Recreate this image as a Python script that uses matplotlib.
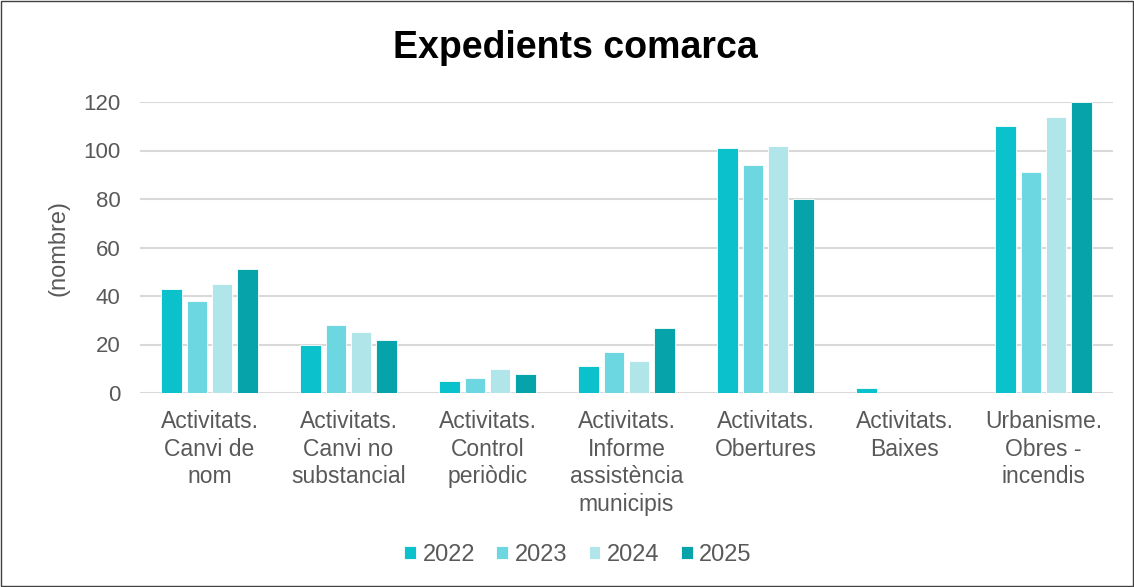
import numpy as np
import matplotlib.pyplot as plt

plt.rcParams['font.family'] = ['Liberation Sans', 'DejaVu Sans']

# categories and values
categories = ["Activitats.\nCanvi de\nnom", "Activitats.\nCanvi no\nsubstancial",
              "Activitats.\nControl\nperiòdic", "Activitats.\nInforme\nassistència\nmunicipis",
              "Activitats.\nObertures", "Activitats.\nBaixes", "Urbanisme.\nObres -\nincendis"]
years = ["2022", "2023", "2024", "2025"]
v2022 = [43, 20, 5, 11, 101, 2, 110]
v2023 = [38, 28, 6, 17, 94, 0, 91]
v2024 = [45, 25, 10, 13, 102, 0, 114]
v2025 = [51, 22, 8, 27, 80, 0, 120]
series = [v2022, v2023, v2024, v2025]
colors = ["#0BC1CC", "#6CD7E0", "#B0E5EA", "#07A3AB"]

fig = plt.figure(figsize=(11.34, 5.87), dpi=100)
ax = fig.add_axes([140/1134, 1-393/587, 973/1134, 291/587])

x = np.arange(len(categories))
slot = 0.182
for i, (vals, c) in enumerate(zip(series, colors)):
    ax.bar(x + (i - 1.5) * slot, vals, width=0.145, color=c, label=years[i],
           edgecolor="white", linewidth=0.6, zorder=3)

ax.set_xlim(-0.5, len(categories) - 0.5)
ax.set_ylim(0, 120)
ax.set_yticks(np.arange(0, 121, 20))
ax.yaxis.grid(True, color="#D9D9D9", linewidth=1.5, zorder=0)
for s in ax.spines.values():
    s.set_visible(False)
ax.tick_params(axis='both', length=0, labelsize=16, colors="#595959")
ax.tick_params(axis='y', pad=14)
ax.set_xticks(x)
ax.set_xticklabels(categories, fontsize=16.5, color="#595959", linespacing=1.27)
ax.tick_params(axis='x', pad=12)
ax.set_ylabel("(nombre)", fontsize=17, color="#595959", labelpad=10)

fig.text(575/1134, 1-48/587, "Expedients comarca", ha="center", va="center",
         fontsize=27, fontweight="bold", color="black")

ax.legend(loc="center", bbox_to_anchor=(578/1134, 1-555/587), bbox_transform=fig.transFigure,
          ncol=4, frameon=False, fontsize=17, handlelength=0.5, handleheight=0.5,
          handletextpad=0.28, columnspacing=0.9, labelcolor="#595959")

fig.add_artist(plt.Rectangle((0.001, 0.001), 0.998, 0.997, transform=fig.transFigure,
                             fill=False, edgecolor="#404040", linewidth=1))

fig.savefig("out.png", dpi=100)
